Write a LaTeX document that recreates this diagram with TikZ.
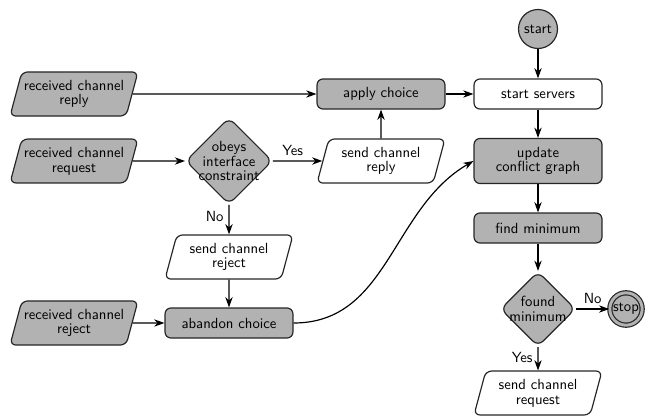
\documentclass[tikz,border=0pt]{standalone}
\usetikzlibrary{shapes.geometric,arrows.meta}
\tikzset{
  every node/.style={font=\sffamily\fontsize{10}{10}\selectfont, align=center},
  base/.style={draw=black!85, line width=0.8pt},
  action/.style={base, rectangle, rounded corners=4pt, minimum width=87pt, minimum height=20.4pt, inner sep=1pt},
  grey/.style={fill=black!30},
  io/.style={base, trapezium, trapezium left angle=75, trapezium right angle=105,
    trapezium stretches body, rounded corners=4pt, minimum width=87pt,
    inner xsep=1pt, inner ysep=5.5pt},
  test/.style={base, diamond, aspect=1, rounded corners=5pt, fill=black!30, inner sep=-3pt},
  term/.style={base, circle, fill=black!30, minimum size=26.5pt, inner sep=0pt},
  flow/.style={-{Stealth[length=7pt,width=5pt]}, line width=0.8pt}
}
\begin{document}
\begin{tikzpicture}[x=0.68pt, y=-0.68pt]
    \useasboundingbox (0,0) rectangle (648,416);
    % right column
    \node[term] (start) at (538,29) {start};
    \node[action] (servers) at (538,94) {start servers};
    \node[action, grey, minimum height=30.6pt] (update) at (538,161) {update\\conflict graph};
    \node[action, grey] (findmin) at (538,228) {find minimum};
    \node[test, minimum size=51pt] (found) at (538,309) {found\\minimum};
    \node[term, double=black!30, double distance=2pt, minimum size=22pt] (stop) at (626,309) {stop};
    \node[io] (sendreq) at (538,393) {send channel\\request};
    % left part
    \node[io, grey] (rcvreply) at (74,94) {received channel\\reply};
    \node[io, grey] (rcvreq) at (74,161) {received channel\\request};
    \node[io, grey] (rcvrej) at (74,323) {received channel\\reject};
    \node[test, minimum size=59pt] (obeys) at (229,161) {obeys\\interface\\constraint};
    \node[io] (sendrej) at (229,257) {send channel\\reject};
    \node[action, grey] (abandon) at (229,323) {abandon choice};
    \node[action, grey] (apply) at (381,94) {apply choice};
    \node[io] (sendreply) at (381,161) {send channel\\reply};

    \draw[flow] (start) -- (servers);
    \draw[flow] (servers) -- (update);
    \draw[flow] (update) -- (findmin);
    \draw[flow] (findmin) -- (found);
    \draw[flow] (found) -- node[above] {No} (stop);
    \draw[flow] (found) -- node[left, pos=0.45] {Yes} (sendreq);
    \draw[flow] (rcvreply) -- (apply);
    \draw[flow] (apply) -- (servers);
    \draw[flow] (rcvreq) -- (obeys);
    \draw[flow] (obeys) -- node[above, pos=0.4] {Yes} (sendreply);
    \draw[flow] (sendreply) -- (apply);
    \draw[flow] (obeys) -- node[left, pos=0.4] {No} (sendrej);
    \draw[flow] (sendrej) -- (abandon);
    \draw[flow] (rcvrej) -- (abandon);
    \draw[flow] (abandon.east) to[out=0, in=-150] (update.west); % back to the graph
\end{tikzpicture}
\end{document}
